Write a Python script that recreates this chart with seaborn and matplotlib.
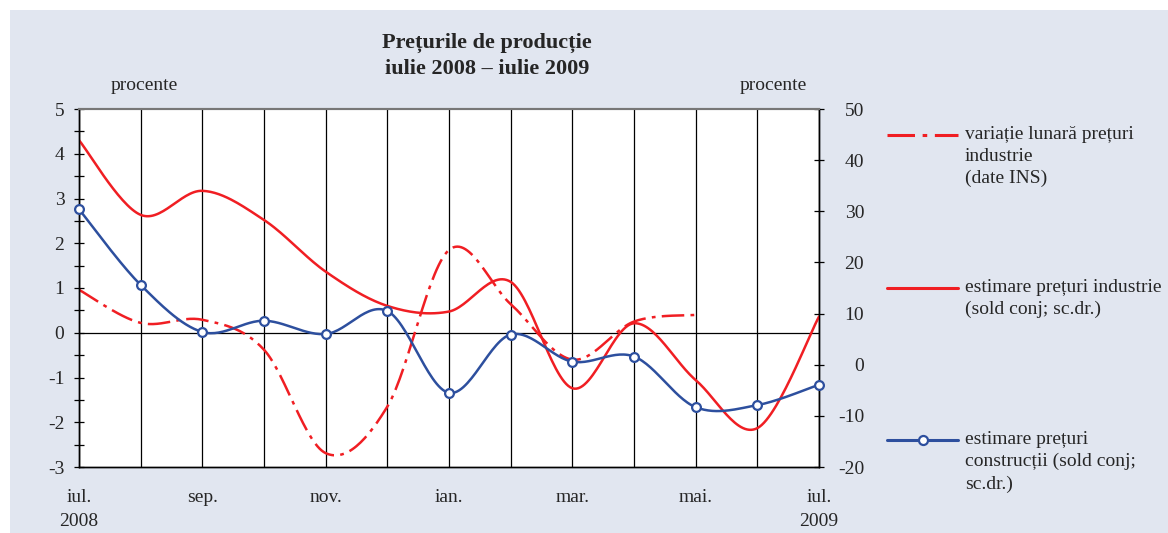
import numpy as np
import pandas as pd
import seaborn as sns
import matplotlib.pyplot as plt
from matplotlib.lines import Line2D
from matplotlib.patches import Rectangle

# ---- data ----
months = ["iul.", "aug.", "sep.", "oct.", "nov.", "dec.", "ian.",
          "feb.", "mar.", "apr.", "mai.", "iun.", "iul."]
tick_labels = ["iul.\n2008", "", "sep.", "", "nov.", "", "ian.",
               "", "mar.", "", "mai.", "", "iul.\n2009"]
variatie = [0.96, 0.22, 0.29, -0.38, -2.69, -1.65, 1.85, 0.64, -0.60, 0.25, 0.40]
est_industrie = [43.9, 29.3, 34.0, 28.3, 18.2, 11.5, 10.4, 16.2, -4.6, 8.1, -3.0, -12.4, 9.4]
est_constructii = [30.4, 15.6, 6.4, 8.6, 6.0, 10.5, -5.5, 5.9, 0.6, 1.6, -8.3, -7.9, -3.9]

RED = "#f01e23"
BLUE = "#2d4f9e"
BG = "#e1e6f0"


def smooth(values, n=30):
    """Excel-like smoothed line (Catmull-Rom Bezier) for rendering."""
    P = np.column_stack([np.arange(len(values), dtype=float), np.asarray(values, float)])
    ext = np.vstack([P[0], P, P[-1]])
    out = []
    for i in range(len(P) - 1):
        p0, p1, p2, p3 = ext[i], ext[i + 1], ext[i + 2], ext[i + 3]
        c1 = p1 + (p2 - p0) / 6
        c2 = p2 - (p3 - p1) / 6
        t = np.linspace(0, 1, n, endpoint=(i == len(P) - 2))[:, None]
        b = (1 - t) ** 3 * p1 + 3 * (1 - t) ** 2 * t * c1 + 3 * (1 - t) * t ** 2 * c2 + t ** 3 * p2
        out.append(b)
    return np.vstack(out)


sns.set_style("white")
plt.rcParams["font.family"] = ["Liberation Serif", "DejaVu Serif"]
plt.rcParams["font.size"] = 14
plt.rcParams["axes.unicode_minus"] = False

fig = plt.figure(figsize=(11.68, 5.33), dpi=100)
fig.patch.set_facecolor("white")
fig.add_artist(Rectangle((10 / 1168, 0), 1 - 10 / 1168, (533 - 10) / 533,
                         transform=fig.transFigure, facecolor=BG, edgecolor="none", zorder=-10))

ax = fig.add_axes([79 / 1168, (533 - 467) / 533, 740 / 1168, 358 / 533])
ax.set_facecolor("white")
ax2 = ax.twinx()

# left axis: monthly variation (dash-dot)
sv = smooth(variatie)
sns.lineplot(x=sv[:, 0], y=sv[:, 1], ax=ax, sort=False, color=RED, lw=1.8, estimator=None)
ax.lines[-1].set_linestyle((0, (9, 2.5, 1.5, 2.5)))

# right axis: industry estimate
si = smooth(est_industrie)
sns.lineplot(x=si[:, 0], y=si[:, 1], ax=ax2, sort=False, color=RED, lw=1.8, estimator=None)

# right axis: construction estimate
sc = smooth(est_constructii)
sns.lineplot(x=sc[:, 0], y=sc[:, 1], ax=ax2, sort=False, color=BLUE, lw=1.8, estimator=None)
df_c = pd.DataFrame({"x": np.arange(len(est_constructii)), "y": est_constructii})
sns.scatterplot(data=df_c, x="x", y="y", ax=ax2, marker="o", s=40,
                facecolor="white", edgecolor=BLUE, linewidth=1.6, zorder=5, clip_on=False)

ax.set_xlim(0, 12)
ax.set_ylim(-3, 5)
ax2.set_ylim(-20, 50)

ax.set_xticks(range(len(months)))
ax.set_xticklabels(tick_labels, linespacing=1.5)
ax.tick_params(axis="x", length=0, pad=16, labelsize=14)
ax.grid(axis="x", color="black", lw=0.9)
ax.axhline(0, color="black", lw=0.9, zorder=1)

ax.set_yticks(range(-3, 6))
ax.set_yticks(np.arange(-3, 5.01, 0.5), minor=True)
ax.tick_params(axis="y", which="both", direction="inout", length=7, width=0.9,
               color="black", left=True, pad=7, labelsize=14)
ax2.set_yticks(range(-20, 51, 10))
ax2.tick_params(axis="y", direction="inout", length=7, width=0.9, color="black",
                right=True, pad=29, labelsize=14)
for lab in ax2.get_yticklabels():
    lab.set_horizontalalignment("right")

ax.set_xlabel("")
ax.set_ylabel("")
ax2.set_xlabel("")
ax2.set_ylabel("")

for a in (ax, ax2):
    for s in ("left", "right", "bottom"):
        a.spines[s].set_color("black")
        a.spines[s].set_linewidth(1.0)
    a.spines["top"].set_color("#777777")
    a.spines["top"].set_linewidth(1.5)

# titles & units
fig.text(487 / 1168, 1 - 43 / 533, "Prețurile de producție", ha="center", va="center",
         fontsize=16, fontweight="bold")
fig.text(487 / 1168, 1 - 69 / 533, "iulie 2008 – iulie 2009", ha="center", va="center",
         fontsize=16, fontweight="bold")
fig.text(144 / 1168, 1 - 85 / 533, "procente", ha="center", va="center", fontsize=14)
fig.text(773 / 1168, 1 - 85 / 533, "procente", ha="center", va="center", fontsize=14)

# legend (manual, figure coordinates)
entries = [
    (135, "variație lunară prețuri\nindustrie\n(date INS)",
     dict(color=RED, lw=2.2, linestyle=(0, (9, 2.5, 1.5, 2.5))), False),
    (288, "estimare prețuri industrie\n(sold conj; sc.dr.)", dict(color=RED, lw=2.2), False),
    (440, "estimare prețuri\nconstrucții (sold conj;\nsc.dr.)", dict(color=BLUE, lw=2.2), True),
]
for ypx, label, style, mk in entries:
    yf = 1 - ypx / 533
    fig.add_artist(Line2D([887 / 1168, 958 / 1168], [yf, yf], transform=fig.transFigure, **style))
    if mk:
        fig.add_artist(Line2D([923 / 1168], [yf], transform=fig.transFigure, marker="o",
                              markersize=6.5, markerfacecolor="white", markeredgecolor=BLUE,
                              markeredgewidth=1.6, linestyle="none"))
    fig.text(965 / 1168, 1 - (ypx - 9) / 533, label, ha="left", va="top",
             fontsize=14, linespacing=1.38)

fig.savefig("out.png", dpi=100, facecolor=fig.get_facecolor())
